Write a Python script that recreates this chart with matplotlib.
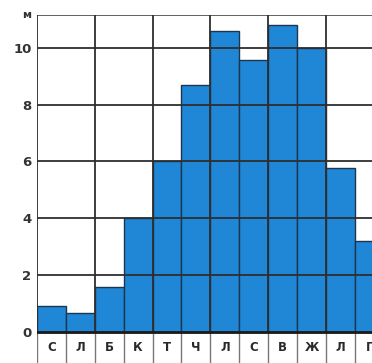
import matplotlib.pyplot as plt

months = ["С", "Л", "Б", "К", "Т", "Ч", "Л", "С", "В", "Ж", "Л", "Г"]
depth = [0.9, 0.65, 1.58, 4.0, 6.0, 8.7, 10.6, 9.58, 10.8, 10.0, 5.77, 3.2]
yticks = [0, 2, 4, 6, 8, 10]

fig = plt.figure(figsize=(3.72, 3.63), dpi=100)
# axes runs past the right edge, last column is cut off like in the picture
ax = fig.add_axes([37 / 372, 0 / 363, 12 * 28.9 / 372, 348 / 363])

ytop = 11.16
ybot = -1.1
ax.set_xlim(0, 12)
ax.set_ylim(ybot, ytop)

ax.bar(range(12), depth, width=1.0, align="edge", color="#1f87d6",
       edgecolor="#1c3550", linewidth=1.0, zorder=2)

line_c = "#2e2e2e"
for y in yticks[1:]:
    ax.axhline(y, color=line_c, lw=1.3, zorder=3)
ax.axhline(ytop, color="#555555", lw=1.3, zorder=3)
ax.axhline(0, color="#1a1a1a", lw=2.0, zorder=4)
for x in range(0, 13, 2):
    ax.plot([x, x], [0, ytop], color=line_c, lw=1.3, zorder=3)

# label row under the bars
for i in range(13):
    ax.plot([i, i], [ybot, 0], color="#777777", lw=1.0, zorder=3)
for i, m in enumerate(months):
    ax.text(i + 0.5, ybot / 2 - 0.02, m, ha="center", va="center",
            fontsize=8.5, fontweight="bold", color="#2a2a2a")

for s in ax.spines.values():
    s.set_visible(False)
ax.set_xticks([])
ax.set_yticks(yticks)
ax.set_yticklabels([str(v) for v in yticks], fontsize=9.5,
                   fontweight="bold", color="#333333")
ax.tick_params(axis="y", length=0, pad=4)
ax.text(-0.2, ytop, "м", ha="right", va="center", fontsize=8,
        fontweight="bold", color="#333333")

fig.savefig("out.png", dpi=100)
